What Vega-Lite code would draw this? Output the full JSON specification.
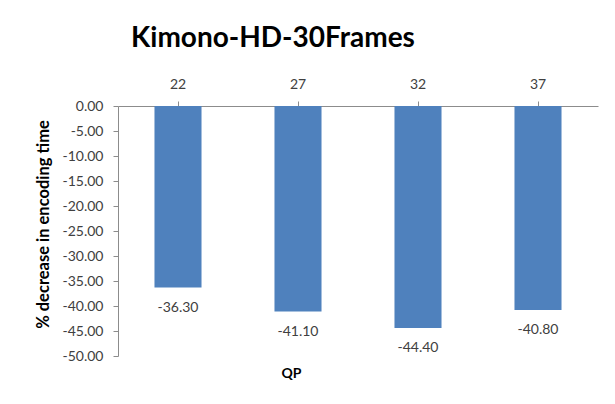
{
  "$schema": "https://vega.github.io/schema/vega-lite/v6.json",
  "autosize": {"type": "none"},
  "width": 480,
  "height": 250,
  "padding": {"left": 118, "top": 106, "right": 17, "bottom": 48},
  "background": "white",
  "config": {
    "view": {"stroke": null},
    "locale": {"number": {"decimal": ".", "thousands": ",", "grouping": [3], "currency": ["$", ""], "minus": "-"}}
  },
  "title": {
    "text": "Kimono-HD-30Frames",
    "font": "Lato",
    "fontSize": 28,
    "fontWeight": "bold",
    "color": "#000000",
    "anchor": "middle",
    "frame": "group",
    "dx": -85,
    "offset": 24
  },
  "data": {
    "values": [
      {"QP": "22", "value": -36.3},
      {"QP": "27", "value": -41.1},
      {"QP": "32", "value": -44.4},
      {"QP": "37", "value": -40.8}
    ]
  },
  "encoding": {
    "x": {
      "field": "QP",
      "type": "ordinal",
      "sort": null,
      "scale": {"paddingInner": 0.608, "paddingOuter": 0.304},
      "axis": {
        "orient": "top",
        "labelAngle": 0,
        "labelFont": "Lato",
        "labelFontSize": 14,
        "labelColor": "#404040",
        "labelPadding": 10,
        "tickSize": 5,
        "tickColor": "#8c8c8c",
        "domainColor": "#8c8c8c",
        "title": "QP",
        "titleFont": "Lato",
        "titleFontSize": 14,
        "titleFontWeight": "bold",
        "titleColor": "#000000",
        "titleAngle": 0,
        "titleAlign": "center",
        "titleBaseline": "middle",
        "titleX": 173,
        "titleY": 267
      }
    },
    "y": {
      "field": "value",
      "type": "quantitative",
      "scale": {"domain": [-50, 0], "nice": false},
      "axis": {
        "values": [-50, -45, -40, -35, -30, -25, -20, -15, -10, -5, 0],
        "format": ".2f",
        "grid": false,
        "labelFont": "Lato",
        "labelFontSize": 14,
        "labelColor": "#404040",
        "labelPadding": 10,
        "tickSize": 5,
        "tickColor": "#8c8c8c",
        "domainColor": "#8c8c8c",
        "title": "% decrease in encoding time",
        "titleFont": "Lato",
        "titleFontSize": 16.5,
        "titleFontWeight": "bold",
        "titleColor": "#000000",
        "titleAngle": -90,
        "titleAlign": "center",
        "titleBaseline": "middle",
        "titleX": -75,
        "titleY": 118
      }
    }
  },
  "layer": [
    {"mark": {"type": "bar", "color": "#4F81BD"}},
    {
      "mark": {"type": "text", "dy": 20, "font": "Lato", "fontSize": 14, "color": "#404040", "baseline": "middle"},
      "encoding": {"text": {"field": "value", "type": "quantitative", "format": ".2f"}}
    }
  ]
}
